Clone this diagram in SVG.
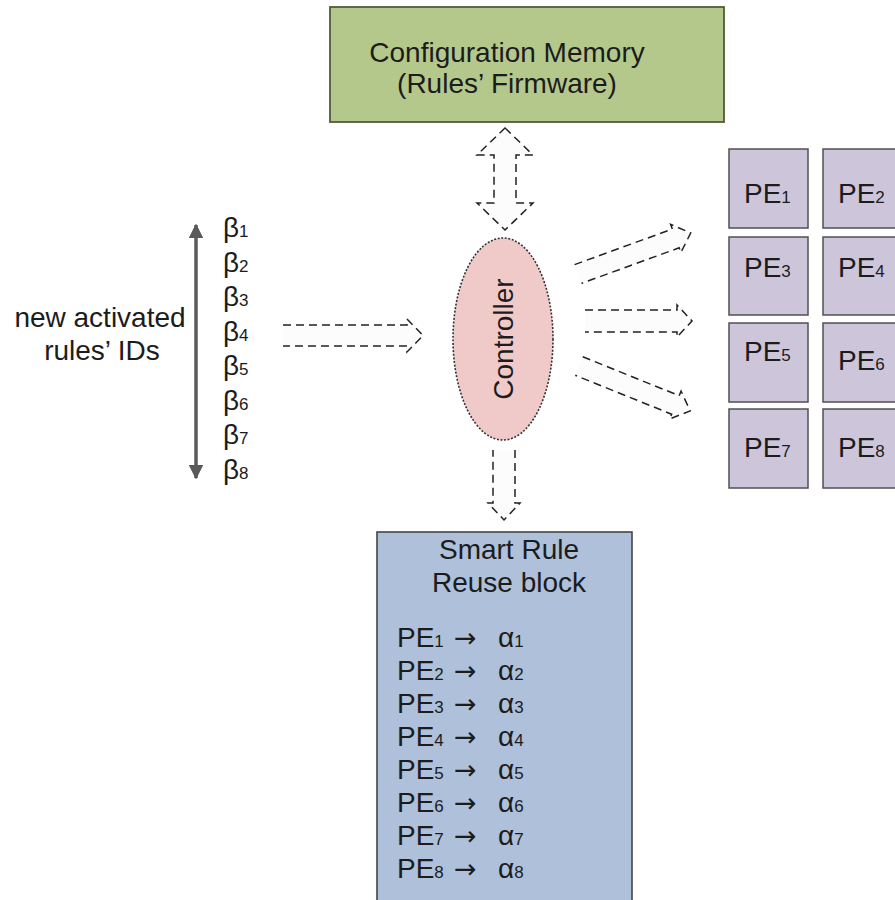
<svg xmlns="http://www.w3.org/2000/svg" width="895" height="900" viewBox="0 0 895 900">
<defs>
<style>
text{font-family:"Liberation Sans",Arial,sans-serif;font-size:28px;fill:#1c1c1c}
.sub{font-size:17px}
.arr{font-family:"DejaVu Sans",sans-serif;font-size:27px}
.dash{fill:#fcfcfc;stroke:#222;stroke-width:1.5;stroke-dasharray:8 5}
.pe{fill:#cdc5da;stroke:#505050;stroke-width:1.5}
</style>
<marker id="gh" viewBox="0 0 10 10" refX="9" refY="5" markerWidth="4.2" markerHeight="4.2" orient="auto-start-reverse" markerUnits="strokeWidth">
<path d="M0,0 L10,5 L0,10 Z" fill="#5a5a5a"/>
</marker>
</defs>
<rect width="895" height="900" fill="#ffffff"/>

<g id="config-memory">
<rect x="330" y="7" width="394" height="115" fill="#b5c88c" stroke="#4f5c38" stroke-width="1.8"/>
<text x="507" y="62" text-anchor="middle">Configuration Memory</text>
<text x="507" y="93" text-anchor="middle">(Rules’ Firmware)</text>
</g>

<g id="input-label">
<text x="100" y="327" text-anchor="middle">new activated</text>
<text x="102" y="360" text-anchor="middle">rules’ IDs</text>
<line x1="196" y1="225" x2="196" y2="478" stroke="#5a5a5a" stroke-width="3.5" marker-start="url(#gh)" marker-end="url(#gh)"/>
<text x="223" y="237">β<tspan class="sub">1</tspan></text>
<text x="223" y="271.5">β<tspan class="sub">2</tspan></text>
<text x="223" y="306">β<tspan class="sub">3</tspan></text>
<text x="223" y="340.5">β<tspan class="sub">4</tspan></text>
<text x="223" y="375">β<tspan class="sub">5</tspan></text>
<text x="223" y="409.5">β<tspan class="sub">6</tspan></text>
<text x="223" y="444">β<tspan class="sub">7</tspan></text>
<text x="223" y="478.5">β<tspan class="sub">8</tspan></text>
</g>

<g id="controller">
<ellipse cx="503" cy="339" rx="50" ry="101" fill="#efcac8" stroke="#333" stroke-width="1.6" stroke-dasharray="2 1.6"/>
<text transform="translate(513,339) rotate(-90)" text-anchor="middle">Controller</text>
</g>

<g id="pe-array">
<rect class="pe" x="729" y="149" width="79" height="79"/>
<rect class="pe" x="823" y="149" width="79" height="79"/>
<rect class="pe" x="729" y="237" width="79" height="78"/>
<rect class="pe" x="823" y="237" width="79" height="78"/>
<rect class="pe" x="729" y="323" width="79" height="79"/>
<rect class="pe" x="823" y="323" width="79" height="79"/>
<rect class="pe" x="729" y="409" width="79" height="79"/>
<rect class="pe" x="823" y="409" width="79" height="79"/>
<text x="744" y="203">PE<tspan class="sub">1</tspan></text>
<text x="838" y="203">PE<tspan class="sub">2</tspan></text>
<text x="744" y="277">PE<tspan class="sub">3</tspan></text>
<text x="838" y="277">PE<tspan class="sub">4</tspan></text>
<text x="744" y="361">PE<tspan class="sub">5</tspan></text>
<text x="838" y="370">PE<tspan class="sub">6</tspan></text>
<text x="744" y="457">PE<tspan class="sub">7</tspan></text>
<text x="838" y="457">PE<tspan class="sub">8</tspan></text>
</g>

<g id="reuse-block">
<rect x="377" y="532" width="255" height="380" fill="#aec0da" stroke="#454545" stroke-width="1.6"/>
<text x="509" y="559" text-anchor="middle">Smart Rule</text>
<text x="509" y="592" text-anchor="middle">Reuse block</text>
<text x="397" y="647">PE<tspan class="sub">1</tspan><tspan class="arr" x="454">→</tspan><tspan x="498">α</tspan><tspan class="sub">1</tspan></text>
<text x="397" y="680">PE<tspan class="sub">2</tspan><tspan class="arr" x="454">→</tspan><tspan x="498">α</tspan><tspan class="sub">2</tspan></text>
<text x="397" y="713">PE<tspan class="sub">3</tspan><tspan class="arr" x="454">→</tspan><tspan x="498">α</tspan><tspan class="sub">3</tspan></text>
<text x="397" y="746">PE<tspan class="sub">4</tspan><tspan class="arr" x="454">→</tspan><tspan x="498">α</tspan><tspan class="sub">4</tspan></text>
<text x="397" y="779">PE<tspan class="sub">5</tspan><tspan class="arr" x="454">→</tspan><tspan x="498">α</tspan><tspan class="sub">5</tspan></text>
<text x="397" y="812">PE<tspan class="sub">6</tspan><tspan class="arr" x="454">→</tspan><tspan x="498">α</tspan><tspan class="sub">6</tspan></text>
<text x="397" y="845">PE<tspan class="sub">7</tspan><tspan class="arr" x="454">→</tspan><tspan x="498">α</tspan><tspan class="sub">7</tspan></text>
<text x="397" y="878">PE<tspan class="sub">8</tspan><tspan class="arr" x="454">→</tspan><tspan x="498">α</tspan><tspan class="sub">8</tspan></text>
</g>

<g id="connectors">
<path class="dash" d="M505,128 L533,155 L516,155 L516,203 L533,203 L505,230 L477,203 L494,203 L494,155 L477,155 Z"/>
<path class="dash" transform="translate(283,335.5)" d="M0,-10.5 L124,-10.5 L124,-16.5 L140,0 L124,16.5 L124,10.5 L0,10.5"/>
<path class="dash" transform="translate(578,274) rotate(-20)" d="M0,-10 L104,-10 L104,-15 L120,0 L104,15 L104,10 L0,10"/>
<path class="dash" transform="translate(585,321)" d="M0,-11 L92,-11 L92,-16 L107,0 L92,16 L92,11 L0,11"/>
<path class="dash" transform="translate(579,366) rotate(22)" d="M0,-10 L104,-10 L104,-15 L120,0 L104,15 L104,10 L0,10"/>
<path class="dash" transform="translate(504,450) rotate(90)" d="M0,-11 L53,-11 L53,-16 L70,0 L53,16 L53,11 L0,11"/>
</g>
</svg>
